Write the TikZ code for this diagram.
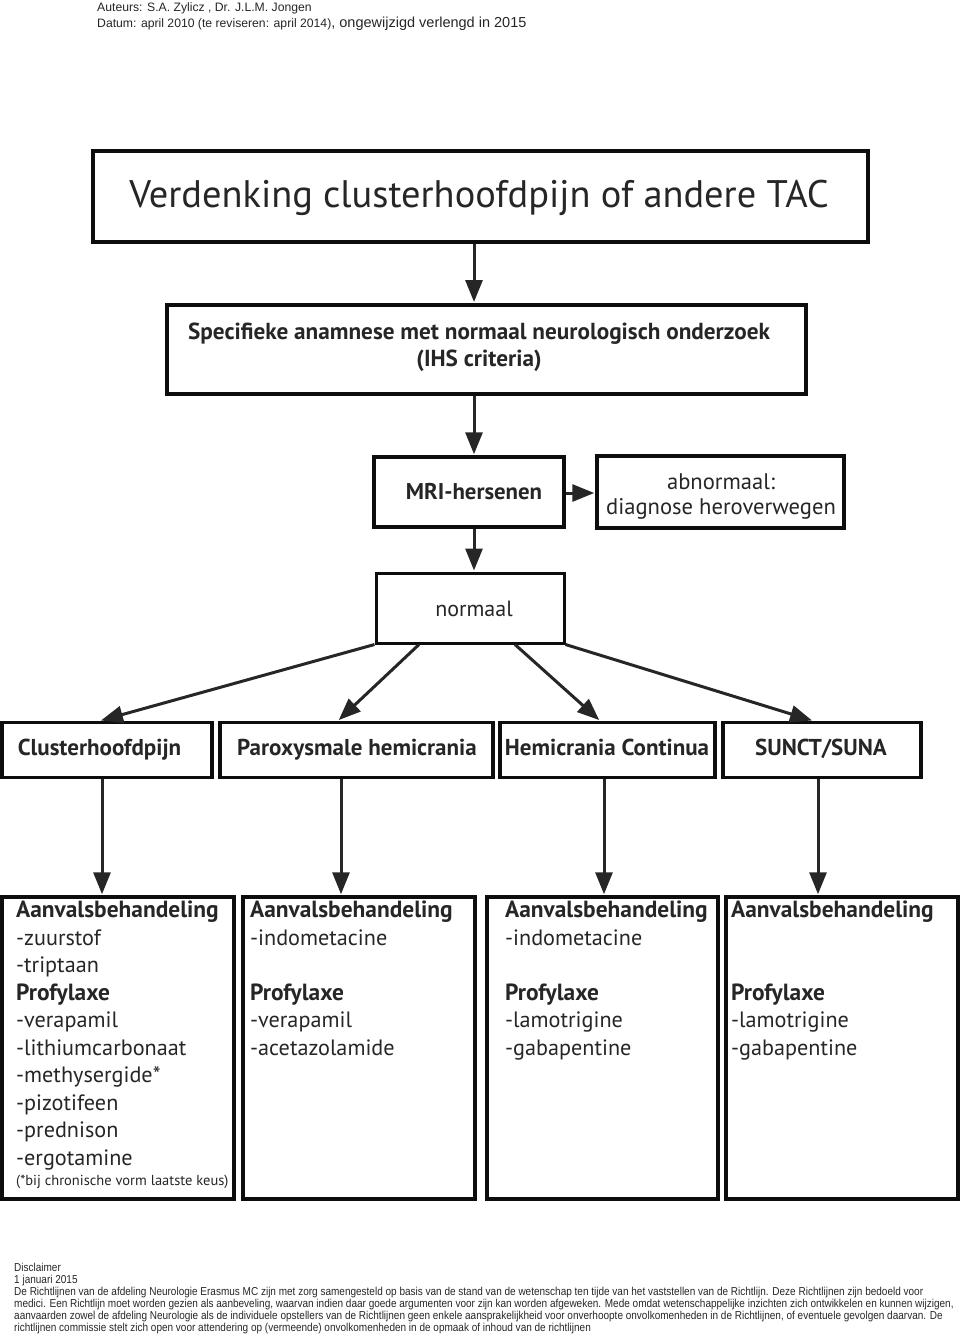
\documentclass[tikz,border=0pt]{standalone}
\usepackage{fontspec}
\setmainfont{PT Sans}
\newfontfamily\arialf{Liberation Sans}
\newfontfamily\narrowf[FakeStretch=0.87]{Liberation Sans}
\usetikzlibrary{arrows.meta,calc}
\newcommand{\bhead}[1]{{\bfseries\fontsize{23.4}{27.5}\selectfont #1}}
\begin{document}
\begin{tikzpicture}[x=1pt,y=-1pt,
  box/.style={draw=black!90!gray, fill=white, line width=3.5pt, inner sep=0pt},
  arr/.style={draw=black!85, line width=3pt, -{Triangle[length=22pt,width=17pt]}, shorten >=1pt},
  lbl/.style={inner sep=0pt, text=black!85},
  rowtxt/.style={lbl, anchor=base, font=\bfseries\fontsize{23}{27}\selectfont},
  boxtxt/.style={inner sep=0pt, anchor=north west, align=left, text=black!85, font=\fontsize{22.2}{27.5}\selectfont}
]
\useasboundingbox (0,0) rectangle (960,1334);
% header
\node[lbl, anchor=base west, font=\arialf\fontsize{12.2}{15}\selectfont] (auth) at (97,11.5) {Auteurs: S.A. Zylicz , Dr. J.L.M. Jongen};
\node[lbl, anchor=base west, font=\arialf\fontsize{12.2}{15}\selectfont] (date) at (97,27) {Datum: april 2010 (te reviseren: april 2014){\fontsize{14.5}{15}\selectfont, ongewijzigd verlengd in 2015}};
% boxes
\node[box, line width=4.5pt, minimum width=775, minimum height=91] (title) at (480.5,196.5) {};
\node[lbl, anchor=base, font=\fontsize{38.4}{46}\selectfont] (titlet) at (479,207) {Verdenking clusterhoofdpijn of andere TAC};
\node[box, line width=4pt, minimum width=639, minimum height=89] (anam) at (486.5,349.5) {};
\node[lbl, anchor=base, font=\bfseries\fontsize{23.2}{27}\selectfont] (anamt) at (479,339) {Specifieke anamnese met normaal neurologisch onderzoek};
\node[lbl, anchor=base, font=\bfseries\fontsize{23.2}{27}\selectfont] (anamt2) at (479,366) {(IHS criteria)};
\node[box, minimum width=190, minimum height=70] (mri) at (469,492) {};
\node[lbl, anchor=base, font=\bfseries\fontsize{22.8}{25}\selectfont] (mrit) at (474,499) {MRI-hersenen};
\node[box, minimum width=247, minimum height=72] (abn) at (720.5,492) {};
\node[lbl, anchor=base, font=\fontsize{22.6}{25}\selectfont] (abnt) at (721,489) {abnormaal:};
\node[lbl, anchor=base, font=\fontsize{22.6}{25}\selectfont] (abnt2) at (721,514) {diagnose heroverwegen};
\node[box, line width=3pt, minimum width=188, minimum height=70] (norm) at (470,608) {};
\node[lbl, anchor=base, font=\fontsize{22}{25}\selectfont] (normt) at (474,616) {normaal};
% row
\node[box, minimum width=210, minimum height=55] (clu) at (107,750) {};
\node[box, minimum width=273, minimum height=55] (par) at (356.5,750) {};
\node[box, minimum width=215, minimum height=55] (hem) at (607.5,750) {};
\node[box, minimum width=198, minimum height=55] (sun) at (822,750) {};
\node[rowtxt] (clut) at (99.5,755) {Clusterhoofdpijn};
\node[rowtxt] (part) at (357,755) {Paroxysmale hemicrania};
\node[rowtxt] (hemt) at (607,755) {Hemicrania Continua};
\node[rowtxt] (sunt) at (821,755) {SUNCT/SUNA};
% bottom boxes
\node[box, minimum width=232, minimum height=302] (b1) at (118,1048) {};
\node[box, minimum width=232, minimum height=302] (b2) at (359,1048) {};
\node[box, minimum width=231, minimum height=302] (b3) at (602.5,1048) {};
\node[box, minimum width=232, minimum height=302] (b4) at (842,1048) {};
\node[boxtxt] (b1t) at (16,901) {\bhead{Aanvalsbehandeling}\\-zuurstof\\-triptaan\\\bhead{Profylaxe}\\-verapamil\\-lithiumcarbonaat\\-methysergide*\\-pizotifeen\\-prednison\\-ergotamine};
\node[lbl, anchor=base west, font=\fontsize{14.5}{17}\selectfont] (b1n) at (16,1185) {(*bij chronische vorm laatste keus)};
\node[boxtxt] (b2t) at (250,901) {\bhead{Aanvalsbehandeling}\\-indometacine\\\strut\\\bhead{Profylaxe}\\-verapamil\\-acetazolamide};
\node[boxtxt] (b3t) at (505,901) {\bhead{Aanvalsbehandeling}\\-indometacine\\\strut\\\bhead{Profylaxe}\\-lamotrigine\\-gabapentine};
\node[boxtxt] (b4t) at (731,901) {\bhead{Aanvalsbehandeling}\\\strut\\\strut\\\bhead{Profylaxe}\\-lamotrigine\\-gabapentine};
% arrows
\draw[arr] (title.south -| 474,0) -- (anam.north -| 474,0);
\draw[arr] (anam.south -| 474,0) -- (mri.north -| 474,0);
\draw[arr] (mri.east |- 0,493) -- (abn.west |- 0,493);
\draw[arr] (mri.south -| 474,0) -- (norm.north -| 474,0);
\draw[arr] (norm.south west) -- ([xshift=-7pt]clu.north);
\draw[arr] (norm.south -| 419,0) -- (par.north -| 338,0);
\draw[arr] (norm.south -| 515,0) -- (hem.north -| 600,0);
\draw[arr] (norm.south east) -- (sun.north -| 813,0);
\draw[arr] (clu.south -| 102,0) -- (b1.north -| 102,0);
\draw[arr] (par.south -| 341,0) -- (b2.north -| 341,0);
\draw[arr] (hem.south -| 604,0) -- (b3.north -| 604,0);
\draw[arr] (sun.south -| 818,0) -- (b4.north -| 818,0);
% disclaimer
\node[lbl, anchor=north west, align=left, font=\narrowf\fontsize{11.5}{12}\selectfont] (disc) at (14,1263) {Disclaimer\\
1 januari 2015\\
De Richtlijnen van de afdeling Neurologie Erasmus MC zijn met zorg samengesteld op basis van de stand van de wetenschap ten tijde van het vaststellen van de Richtlijn. Deze Richtlijnen zijn bedoeld voor\\
medici. Een Richtlijn moet worden gezien als aanbeveling, waarvan indien daar goede argumenten voor zijn kan worden afgeweken. Mede omdat wetenschappelijke inzichten zich ontwikkelen en kunnen wijzigen,\\
aanvaarden zowel de afdeling Neurologie als de individuele opstellers van de Richtlijnen geen enkele aansprakelijkheid voor onverhoopte onvolkomenheden in de Richtlijnen, of eventuele gevolgen daarvan. De\\
richtlijnen commissie stelt zich open voor attendering op (vermeende) onvolkomenheden in de opmaak of inhoud van de richtlijnen};
\end{tikzpicture}
\end{document}
